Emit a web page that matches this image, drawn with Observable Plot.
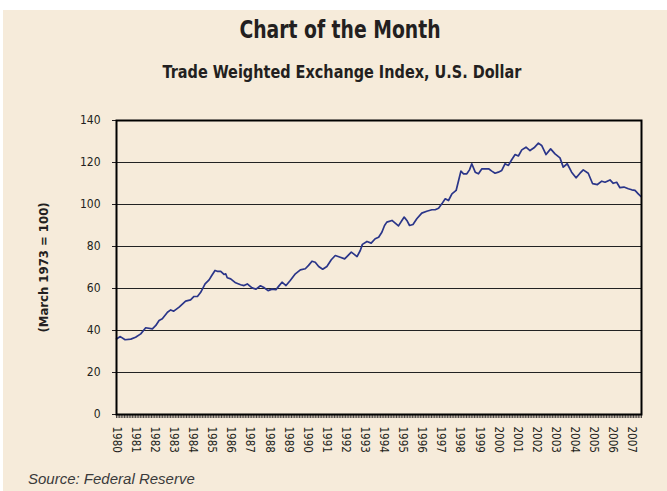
<!DOCTYPE html>
<html>
<head>
<meta charset="utf-8">
<script src="https://cdn.jsdelivr.net/npm/d3@7"></script>
<script src="https://cdn.jsdelivr.net/npm/@observablehq/plot@0.6"></script>
<style>
  html, body { margin: 0; padding: 0; background: #ffffff; }
  body { width: 667px; height: 491px; position: relative; overflow: hidden; }
  #bg { position: absolute; left: 3px; top: 10px; right: 0; bottom: 0; background: #F6EBDA; }
  .narrow { font-family: "Liberation Sans Narrow", "DejaVu Sans Condensed", "Roboto", sans-serif; font-stretch: condensed; }
  #title { position: absolute; left: 0; width: 680px; top: 15px; text-align: center; font-size: 24px; font-weight: bold; color: #231f20; line-height: 30px; transform: scaleX(0.87); transform-origin: 340px 0; }
  #subtitle { position: absolute; left: 0; width: 684px; top: 61px; text-align: center; font-size: 17px; font-weight: bold; color: #231f20; line-height: 22px; transform: scaleX(0.945); transform-origin: 342px 0; }
  #chart { position: absolute; left: 0; top: 100px; }
  #source { position: absolute; left: 28px; top: 470px; font-family: "Liberation Sans", Arial, sans-serif; font-style: italic; font-size: 15px; color: #3a3a3a; }
</style>
</head>
<body>
<div id="bg"></div>
<div id="title" class="narrow">Chart of the Month</div>
<div id="subtitle" class="narrow">Trade Weighted Exchange Index, U.S. Dollar</div>
<div id="chart"></div>
<div id="source">Source: Federal Reserve</div>
<script>
// Time as decimal years (March 1973 = 100)
const years = [
  1980.0, 1980.2, 1980.45, 1980.75, 1981.0, 1981.27, 1981.53, 1981.88, 1982.06, 1982.23,
  1982.4, 1982.67, 1982.84, 1983.0, 1983.28, 1983.62, 1983.88, 1984.06, 1984.24, 1984.41,
  1984.64, 1984.85, 1984.99, 1985.16, 1985.28, 1985.46, 1985.63, 1985.72, 1985.8, 1985.98,
  1986.24, 1986.5, 1986.68, 1986.85, 1987.1, 1987.31, 1987.54, 1987.7, 1987.94, 1988.15,
  1988.35, 1988.49, 1988.67, 1988.88, 1989.1, 1989.37, 1989.63, 1989.89, 1990.06, 1990.24,
  1990.41, 1990.59, 1990.8, 1991.02, 1991.25, 1991.46, 1991.72, 1991.95, 1992.07, 1992.3,
  1992.42, 1992.6, 1992.77, 1992.88, 1993.12, 1993.34, 1993.55, 1993.73, 1993.9, 1994.04,
  1994.16, 1994.43, 1994.6, 1994.77, 1994.95, 1995.07, 1995.21, 1995.35, 1995.53, 1995.73,
  1995.99, 1996.25, 1996.52, 1996.69, 1996.87, 1997.04, 1997.22, 1997.39, 1997.57, 1997.79,
  1997.92, 1998.04, 1998.18, 1998.35, 1998.49, 1998.61, 1998.79, 1998.96, 1999.14, 1999.31,
  1999.49, 1999.66, 1999.83, 2000.0, 2000.18, 2000.35, 2000.53, 2000.7, 2000.88, 2001.05,
  2001.23, 2001.45, 2001.66, 2001.87, 2002.1, 2002.27, 2002.5, 2002.74, 2002.97, 2003.23,
  2003.4, 2003.61, 2003.84, 2004.07, 2004.28, 2004.45, 2004.71, 2004.94, 2005.19, 2005.42,
  2005.59, 2005.85, 2006.02, 2006.2, 2006.37, 2006.58, 2006.81, 2006.99, 2007.16, 2007.33,
  2007.47
];
const values = [
  36.0, 37.1, 35.6, 35.9, 36.8, 38.4, 41.3, 40.8, 42.4, 44.8,
  45.6, 48.7, 49.8, 49.2, 51.1, 54.0, 54.6, 56.2, 56.2, 58.2,
  62.2, 64.1, 66.2, 68.6, 68.2, 68.2, 66.7, 67.0, 65.1, 64.6,
  62.7, 61.8, 61.4, 62.2, 60.3, 59.7, 61.3, 60.6, 59.0, 59.7,
  59.4, 61.0, 63.0, 61.4, 63.8, 67.0, 68.9, 69.4, 71.0, 73.0,
  72.5, 70.5, 69.2, 70.5, 73.7, 75.7, 74.9, 74.1, 75.2, 77.3,
  76.5, 75.2, 78.1, 81.0, 82.4, 81.6, 83.7, 84.4, 86.8, 90.0,
  91.6, 92.4, 91.1, 89.8, 92.4, 94.0, 92.4, 90.0, 90.5, 93.2,
  95.9, 96.8, 97.5, 97.5, 98.2, 100.3, 102.7, 101.9, 105.1, 106.7,
  111.4, 115.9, 114.6, 114.6, 116.5, 119.4, 115.4, 114.6, 117.0, 117.0,
  117.0, 115.9, 114.9, 115.4, 116.2, 119.4, 118.6, 121.3, 123.8, 123.1,
  126.0, 127.3, 125.7, 127.0, 129.2, 128.1, 123.8, 126.5, 124.1, 122.2,
  117.8, 119.4, 115.4, 112.7, 114.9, 116.5, 114.9, 109.9, 109.5, 111.1,
  110.6, 111.7, 110.1, 110.6, 108.0, 108.3, 107.5, 107.0, 106.7, 105.1,
  103.8
];
const yearTicks = d3.range(1980, 2008);
const monthTicks = d3.range(0, 27 * 12 + 7).map(i => 1980 + i / 12);
const yTicks = [0, 20, 40, 60, 80, 100, 120, 140];
const yLabel = "(March 1973 = 100)";

const data = years.map((t, i) => ({t, v: values[i]}));
const font = '"Liberation Sans Narrow", "DejaVu Sans Condensed", Roboto, sans-serif';

const chart = Plot.plot({
  width: 667,
  height: 364,
  marginTop: 20,
  marginBottom: 50,
  marginLeft: 116,
  marginRight: 26,
  style: {background: "transparent", fontFamily: font, fontSize: "11.5px", color: "#231f20", overflow: "visible"},
  x: {domain: [1980, 2007.5]},
  y: {domain: [0, 140]},
  marks: [
    Plot.ruleY(yTicks.filter(d => d > 0), {stroke: "#222", strokeWidth: 1}),
    Plot.axisY({ticks: yTicks, tickSize: 4, tickPadding: 12, label: null, fontSize: 12}),
    Plot.axisX({ticks: monthTicks, tickSize: 4, text: null, label: null, strokeWidth: 0.8}),
    Plot.axisX({ticks: yearTicks, tickSize: 0, tickPadding: 12, tickRotate: 90, tickFormat: d => String(d), label: null, fontSize: 11.5}),
    Plot.line(data, {x: "t", y: "v", stroke: "#2a3589", strokeWidth: 1.7}),
    Plot.frame({stroke: "#000", strokeWidth: 2}),
    Plot.text([yLabel], {frameAnchor: "left", textAnchor: "middle", dx: -73, rotate: -90, text: d => d, fontWeight: "bold", fontSize: 13, fill: "#231f20"})
  ]
});
document.getElementById("chart").appendChild(chart);
</script>
</body>
</html>
